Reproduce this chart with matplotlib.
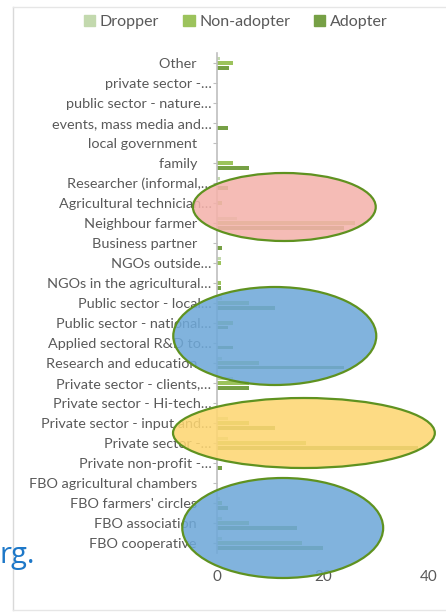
import matplotlib.pyplot as plt
from matplotlib.patches import Ellipse, Patch
from matplotlib.lines import Line2D
import numpy as np

plt.rcParams['font.family'] = ['Lato', 'DejaVu Sans']

# 数据
categories = ['Other', 'private sector -…', 'public sector - nature…',
              'events, mass media and…', 'local government', 'family',
              'Researcher (informal,…', 'Agricultural technician…',
              'Neighbour farmer', 'Business partner', 'NGOs outside…',
              'NGOs in the agricultural…', 'Public sector - local…',
              'Public sector - national…', 'Applied sectoral R&D to…',
              'Research and education', 'Private sector - clients,…',
              'Private sector - Hi-tech…', 'Private sector - input and…',
              'Private sector -…', 'Private non-profit -…',
              'FBO agricultural chambers', "FBO farmers' circles",
              'FBO association', 'FBO cooperative']
dropper = [0.5, 0, 0, 0, 0, 0, 0.5, 0, 3.8, 0, 0.8, 0, 1, 0, 0,
           1, 3, 0, 2, 2, 0, 0, 0.5, 1, 1]
non_adopter = [3.1, 0, 0, 0, 0, 3, 0, 1, 26, 0, 0.8, 0.8, 6, 3, 0,
               8, 6, 0, 6, 16.8, 0, 0, 1, 6, 16]
adopter = [2.2, 0, 0, 2, 0, 6, 2, 0, 24, 1, 0, 0.8, 11, 2, 3,
           24, 6, 0, 11, 38, 1, 0, 2, 15, 20]
series_names = ['Dropper', 'Non-adopter', 'Adopter']
series_colors = ['#c3d9ae', '#9cc35c', '#76a045']
x_ticks = [0, 20, 40]

W, H = 446, 614
fig = plt.figure(figsize=(W / 100, H / 100), dpi=100)
ax = fig.add_axes([217 / W, 1 - 553 / H, (429 - 217) / W, 500 / H])

y = np.arange(len(categories))
offsets = [-0.24, 0, 0.24]
for vals, off, col, name in zip([dropper, non_adopter, adopter], offsets, series_colors, series_names):
    ax.barh(y + off, vals, height=0.17, color=col, label=name, zorder=2)

ax.set_ylim(len(categories) - 0.5, -0.5)
ax.set_xlim(0, 40)
ax.set_xticks(x_ticks)
ax.set_yticks(y)
# 没有省略号的标签离轴远一点
labels = [c if c.endswith('…') else c + '    ' for c in categories]
ax.set_yticklabels(labels)
ax.tick_params(axis='y', length=3, color='#bfbfbf', labelsize=10.4, labelcolor='#595959', pad=1)
ax.tick_params(axis='x', length=0, labelsize=11, labelcolor='#595959', pad=12)
for s in ['top', 'right', 'bottom']:
    ax.spines[s].set_visible(False)
ax.spines['left'].set_color('#bfbfbf')
ax.spines['left'].set_linewidth(1.2)

# 图例
handles = [Patch(color=c, label=n) for c, n in zip(series_colors, series_names)]
fig.legend(handles=handles, loc='center', bbox_to_anchor=(236 / W, 1 - 22 / H), ncol=3,
           frameon=False, fontsize=11.5, handlelength=0.7, handleheight=0.7,
           handletextpad=0.3, columnspacing=1.5, labelcolor='#595959')

# 椭圆标注（数据坐标）
edge = '#5f9220'
ellipses = [
    ((12.7, 7.2), 34.5, 3.4, '#f4b2ab'),
    ((10.9, 13.65), 38.3, 4.9, '#6ea8d8'),
    ((16.4, 18.5), 49.4, 3.5, '#fdd672'),
    ((12.4, 23.25), 37.9, 5.0, '#6ea8d8'),
]
for (cx, cy), w, h, fc in ellipses:
    ax.add_patch(Ellipse((cx, cy), w, h, facecolor=fc, edgecolor='none', alpha=0.87,
                         clip_on=False, zorder=5))
    ax.add_patch(Ellipse((cx, cy), w, h, facecolor='none', edgecolor=edge, lw=1.6,
                         clip_on=False, zorder=6))

# 幻灯片边框和残留文字
fig.add_artist(Line2D([13 / W, 13 / W], [1 - 7 / H, 1 - 610 / H], color='#d9d9d9', lw=1))
fig.add_artist(Line2D([13 / W, 1], [1 - 7 / H, 1 - 7 / H], color='#e6e6e6', lw=1))
fig.add_artist(Line2D([13 / W, 1], [1 - 610 / H, 1 - 610 / H], color='#e6e6e6', lw=1))
fig.text(0, 1 - 556 / H, 'rg.', color='#1e78c8', fontsize=21, ha='left', va='center',
         family=['Open Sans', 'DejaVu Sans'])

fig.savefig('out.png', dpi=100)
